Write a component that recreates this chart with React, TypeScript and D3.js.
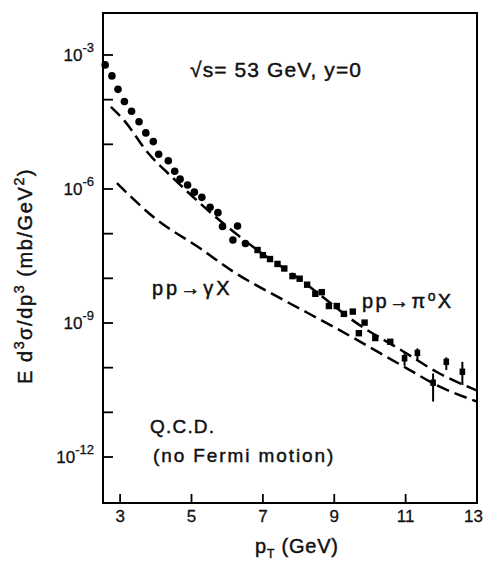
import React from "react";
import * as d3 from "d3";

// pp -> pi0 X data, circles (pT GeV, E d3sigma/dp3 mb/GeV^2)
const circlePT = [2.58, 2.77, 2.94, 3.12, 3.32, 3.53, 3.72, 3.93, 4.08, 4.35, 4.53, 4.68, 4.89, 5.08, 5.29, 5.52, 5.74, 5.87, 6.29, 6.16, 6.51];
const circleVal = [6.0e-4, 3.4e-4, 1.7e-4, 9.1e-5, 5.5e-5, 3.2e-5, 1.8e-5, 1.15e-5, 6.0e-6, 4.3e-6, 2.5e-6, 1.66e-6, 1.23e-6, 8.5e-7, 6.5e-7, 3.9e-7, 2.95e-7, 1.45e-7, 1.48e-7, 7.2e-8, 6.0e-8];

// squares
const squarePT = [6.85, 7.0, 7.2, 7.41, 7.6, 7.83, 8.03, 8.24, 8.47, 8.65, 8.85, 9.07, 9.27, 9.52, 9.69, 9.85, 10.15, 10.57];
const squareVal = [4.3e-8, 3.3e-8, 2.7e-8, 2.1e-8, 1.66e-8, 1.12e-8, 9.8e-9, 7.2e-9, 4.5e-9, 4.9e-9, 2.4e-9, 2.4e-9, 1.6e-9, 1.8e-9, 5.9e-10, 1.02e-9, 4.6e-10, 3.8e-10];

// squares with error bars
const errPT = [10.97, 11.33, 11.77, 12.14, 12.59];
const errVal = [1.62e-10, 2.14e-10, 4.6e-11, 1.35e-10, 8.1e-11];
const errHigh = [2.1e-10, 2.7e-10, 7.4e-11, 1.7e-10, 1.35e-10];
const errLow = [1.1e-10, 1.41e-10, 1.74e-11, 8.9e-11, 4.1e-11];

// QCD curves
const pionCurvePT = [2.74, 3.09, 3.79, 4.49, 5.43, 6.17, 7.0, 8.0, 8.97, 9.43, 11.02, 11.86, 12.99];
const pionCurveVal = [6.9e-5, 3.6e-5, 6.3e-6, 1.74e-6, 3.5e-7, 1.12e-7, 3.5e-8, 1.0e-8, 2.5e-9, 1.29e-9, 2.1e-10, 8.1e-11, 3.1e-11];
const gammaCurvePT = [2.91, 3.98, 5.24, 6.17, 7.57, 8.97, 11.02, 11.86, 13.0];
const gammaCurveVal = [1.35e-6, 2.2e-7, 4.7e-8, 1.41e-8, 3.3e-9, 8.3e-10, 9.8e-11, 4.1e-11, 1.74e-11];

// axes
const xTickValues = [3, 5, 7, 9, 11, 13];
const xTickLabels = ["3", "5", "7", "9", "11", "13"];
const yTickValues = [1e-3, 1e-4, 1e-5, 1e-6, 1e-7, 1e-8, 1e-9, 1e-10, 1e-11, 1e-12];
const yLabelValues = [1e-3, 1e-6, 1e-9, 1e-12];
const yLabelExps = ["-3", "-6", "-9", "-12"];

const FONT = "'Liberation Sans', Arial, Helvetica, sans-serif";
const INK = "#111";
const txt = { fill: INK, stroke: INK, strokeWidth: 0.45 } as const;

export default function App() {
  const x = d3.scaleLinear().domain([2.52, 13]).range([103, 477]);
  const y = d3.scaleLog().domain([Math.pow(10, -13.03), Math.pow(10, -2.06)]).range([503, 13]);
  const line = d3
    .line<[number, number]>()
    .x((d) => x(d[0]))
    .y((d) => y(d[1]))
    .curve(d3.curveMonotoneX);
  const pion = pionCurvePT.map((p, i) => [p, pionCurveVal[i]] as [number, number]);
  const gamma = gammaCurvePT.map((p, i) => [p, gammaCurveVal[i]] as [number, number]);
  const [x0, x1] = x.range();
  const [y0, y1] = y.range();

  return (
    <div style={{ position: "absolute", left: 0, top: 0, width: 484, height: 564, background: "#fff" }}>
      <svg width={484} height={564} style={{ display: "block", fontFamily: FONT }}>
        <rect width={484} height={564} fill="#fff" />
        <defs>
          <clipPath id="plot">
            <rect x={x0} y={y1} width={x1 - x0} height={y0 - y1} />
          </clipPath>
        </defs>
        {/* frame */}
        <rect x={x0} y={y1} width={x1 - x0} height={y0 - y1} fill="none" stroke="#000" strokeWidth={2} />
        {/* y ticks */}
        {yTickValues.map((v, i) => (
          <line key={"yt" + i} x1={x0} x2={x0 + 10} y1={y(v)} y2={y(v)} stroke="#000" strokeWidth={1.8} />
        ))}
        {yLabelValues.map((v, i) => (
          <text key={"yl" + i} x={94} y={y(v) + 6} textAnchor="end" fontSize={17} {...txt} strokeWidth={0.3}>
            <tspan>10</tspan>
            <tspan dy={-9} fontSize={13}>{yLabelExps[i]}</tspan>
          </text>
        ))}
        {/* x ticks */}
        {xTickValues.map((v, i) => (
          <line key={"xt" + i} x1={x(v)} x2={x(v)} y1={y0} y2={y0 - 9} stroke="#000" strokeWidth={1.8} />
        ))}
        {xTickValues.map((v, i) => (
          <text
            key={"xl" + i}
            x={i === xTickValues.length - 1 ? 483 : x(v)}
            y={522}
            textAnchor={i === xTickValues.length - 1 ? "end" : "middle"}
            fontSize={17}
            {...txt}
            strokeWidth={0.3}
          >
            {xTickLabels[i]}
          </text>
        ))}
        {/* axis titles */}
        <text x={255} y={553} fontSize={20} letterSpacing={0.8} {...txt}>
          <tspan>p</tspan>
          <tspan dy={5} fontSize={12}>T</tspan>
          <tspan dy={-5}> (GeV)</tspan>
        </text>
        <text transform="translate(32,276) rotate(-90)" textAnchor="middle" fontSize={20} letterSpacing={1.6} {...txt}>
          <tspan>E d</tspan>
          <tspan dy={-8} fontSize={14}>3</tspan>
          <tspan dy={8}>σ/dp</tspan>
          <tspan dy={-8} fontSize={14}>3</tspan>
          <tspan dy={8}>  (mb/GeV</tspan>
          <tspan dy={-8} fontSize={14}>2</tspan>
          <tspan dy={8}>)</tspan>
        </text>
        {/* curves */}
        <g clipPath="url(#plot)">
          <path d={line(pion) || ""} fill="none" stroke="#000" strokeWidth={2.5} strokeDasharray="13,6" />
          <path d={line(gamma) || ""} fill="none" stroke="#000" strokeWidth={2.5} strokeDasharray="13,6" />
        </g>
        {/* data */}
        {circlePT.map((p, i) => (
          <circle key={"c" + i} cx={x(p)} cy={y(circleVal[i])} r={3.8} fill="#000" />
        ))}
        {squarePT.map((p, i) => (
          <rect key={"s" + i} x={x(p) - 3.2} y={y(squareVal[i]) - 3.2} width={6.4} height={6.4} fill="#000" />
        ))}
        {errPT.map((p, i) => (
          <g key={"e" + i}>
            <line x1={x(p)} x2={x(p)} y1={y(errHigh[i])} y2={y(errLow[i])} stroke="#000" strokeWidth={2} />
            <rect x={x(p) - 2.8} y={y(errVal[i]) - 3.2} width={5.6} height={6.4} fill="#000" />
          </g>
        ))}
        {/* annotations */}
        <text x={190} y={77} fontSize={21} letterSpacing={1.1} {...txt}>
          <tspan>√s= 53 GeV,  y=0</tspan>
        </text>
        <text x={152} y={295} fontSize={20} letterSpacing={3} {...txt}>pp→γX</text>
        <text x={362} y={308} fontSize={20} letterSpacing={2.4} {...txt}>
          <tspan>pp→π</tspan>
          <tspan dy={-7} fontSize={14}>o</tspan>
          <tspan dy={7}>X</tspan>
        </text>
        <text x={150} y={433} fontSize={19} letterSpacing={1.2} {...txt}>Q.C.D.</text>
        <text x={153} y={462} fontSize={19} letterSpacing={1.9} {...txt}>(no Fermi motion)</text>
      </svg>
    </div>
  );
}
